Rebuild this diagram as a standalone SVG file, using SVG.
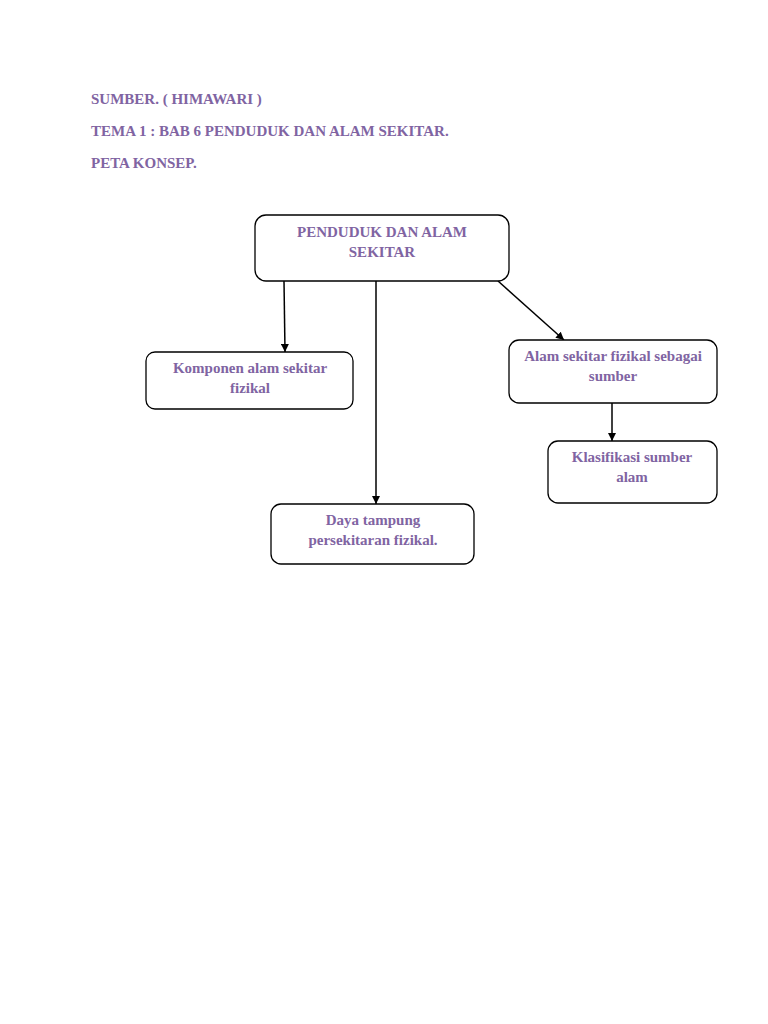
<svg xmlns="http://www.w3.org/2000/svg" width="768" height="1024" viewBox="0 0 768 1024">
<defs>
<marker id="arr" viewBox="0 0 10 10" refX="10" refY="5" markerWidth="8" markerHeight="8" orient="auto" markerUnits="userSpaceOnUse"><path d="M0,0 L10,5 L0,10 z" fill="#000"/></marker>
<style>
.t{font-family:"Liberation Serif","Times New Roman",serif;font-weight:bold;font-size:15px;fill:#8064A2}
.c{text-anchor:middle}
.b{fill:#fff;stroke:#000;stroke-width:1.3}
.l{stroke:#000;stroke-width:1.5;fill:none;marker-end:url(#arr)}
</style>
</defs>
<rect width="768" height="1024" fill="#fff"/>
<g id="header">
<text class="t" x="91" y="104">SUMBER. ( HIMAWARI )</text>
<text class="t" x="91" y="136">TEMA 1 : BAB 6 PENDUDUK DAN ALAM SEKITAR.</text>
<text class="t" x="91" y="168">PETA KONSEP.</text>
</g>
<g id="connectors">
<line class="l" x1="284" y1="281" x2="285" y2="352"/>
<line class="l" x1="376" y1="281" x2="376" y2="504"/>
<line class="l" x1="498" y1="281" x2="564" y2="340"/>
<line class="l" x1="612" y1="403" x2="612" y2="441"/>
</g>
<g id="n1">
<rect class="b" x="255" y="215" width="254" height="66" rx="11"/>
<text class="t c" x="382" y="237">PENDUDUK DAN ALAM</text>
<text class="t c" x="382" y="257">SEKITAR</text>
</g>
<g id="n2">
<rect class="b" x="146" y="352" width="207" height="57" rx="9"/>
<text class="t c" x="250" y="373">Komponen alam sekitar</text>
<text class="t c" x="250" y="393">fizikal</text>
</g>
<g id="n3">
<rect class="b" x="509" y="340" width="208" height="63" rx="10"/>
<text class="t c" x="613" y="361">Alam sekitar fizikal sebagai</text>
<text class="t c" x="613" y="381">sumber</text>
</g>
<g id="n4">
<rect class="b" x="548" y="441" width="169" height="62" rx="10"/>
<text class="t c" x="632" y="462">Klasifikasi sumber</text>
<text class="t c" x="632" y="482">alam</text>
</g>
<g id="n5">
<rect class="b" x="271" y="504" width="203" height="60" rx="10"/>
<text class="t c" x="373" y="525">Daya tampung</text>
<text class="t c" x="373" y="545">persekitaran fizikal.</text>
</g>
</svg>
